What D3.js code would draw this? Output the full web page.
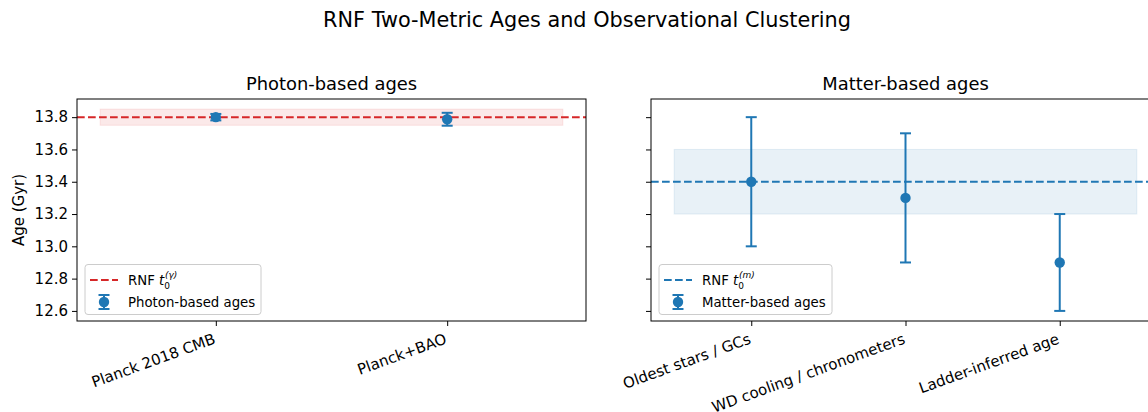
<!DOCTYPE html>
<html><head><meta charset="utf-8">
<script src="https://cdn.jsdelivr.net/npm/d3@7/dist/d3.min.js"></script>
<style>body{margin:0;background:#fff}svg{font-family:"DejaVu Sans",sans-serif}</style>
</head><body><svg id="c" width="1148" height="412"></svg>
<script>
const photonCats = ["Planck 2018 CMB", "Planck+BAO"];
const photonVals = [13.80, 13.787];
const photonErr = [0.02, 0.04];
const photonRNF = 13.80;
const photonBand = [13.75, 13.85];

const matterCats = ["Oldest stars / GCs", "WD cooling / chronometers", "Ladder-inferred age"];
const matterVals = [13.4, 13.3, 12.9];
const matterErr = [0.4, 0.4, 0.3];
const matterRNF = 13.4;
const matterBand = [13.2, 13.6];

const yTicks = [12.6, 12.8, 13.0, 13.2, 13.4, 13.6, 13.8];
const yDomain = [12.5375, 13.9125];

const svg = d3.select("#c");
const RED = "#d62728", BLUE = "#1f77b4";
const plotTop = 99, plotBottom = 321;
const y = d3.scaleLinear().domain(yDomain).range([plotBottom, plotTop]);

svg.append("text").attr("x", 587).attr("y", 27).attr("text-anchor", "middle")
  .attr("font-size", 20.8).text("RNF Two-Metric Ages and Observational Clustering");

function panel(opts) {
  const {left, right, cats, vals, errs, rnf, band, color, title, showY, legendLabel, sup} = opts;
  const n = cats.length;
  const pad = n === 3 ? 0.65 : 0.6;
  const x = d3.scaleLinear().domain([-pad, n - 1 + pad]).range([left, right]);
  const g = svg.append("g");
  g.append("rect").attr("x", x(-0.5)).attr("width", x(n - 0.5) - x(-0.5))
    .attr("y", y(band[1])).attr("height", y(band[0]) - y(band[1]))
    .attr("fill", color).attr("fill-opacity", 0.1)
    .attr("stroke", color).attr("stroke-opacity", 0.1);
  g.append("line").attr("x1", left).attr("x2", right).attr("y1", y(rnf)).attr("y2", y(rnf))
    .attr("stroke", color).attr("stroke-width", 2).attr("stroke-dasharray", "7.7,3.3");
  cats.forEach((c, i) => {
    const cx = x(i);
    const y1 = y(vals[i] + errs[i]), y0 = y(vals[i] - errs[i]);
    g.append("line").attr("x1", cx).attr("x2", cx).attr("y1", y1).attr("y2", y0).attr("stroke", BLUE).attr("stroke-width", 2);
    [y1, y0].forEach(yy => g.append("line").attr("x1", cx - 5.5).attr("x2", cx + 5.5).attr("y1", yy).attr("y2", yy).attr("stroke", BLUE).attr("stroke-width", 2));
    g.append("circle").attr("cx", cx).attr("cy", y(vals[i])).attr("r", 5.2).attr("fill", BLUE);
  });
  g.append("rect").attr("x", left).attr("y", plotTop).attr("width", right - left).attr("height", plotBottom - plotTop)
    .attr("fill", "none").attr("stroke", "#000").attr("stroke-width", 1);
  const ya = d3.axisLeft(y).tickValues(yTicks).tickSize(5).tickPadding(4)
    .tickFormat(showY ? d3.format(".1f") : () => "");
  const yg = g.append("g").attr("transform", `translate(${left},0)`).call(ya);
  yg.select(".domain").remove();
  yg.attr("font-size", 15).attr("font-family", "DejaVu Sans");
  yg.selectAll("text").attr("fill", "#000");
  const xa = d3.axisBottom(x).tickValues(d3.range(n)).tickSize(5).tickFormat(i => cats[i]);
  const xg = g.append("g").attr("transform", `translate(0,${plotBottom})`).call(xa);
  xg.select(".domain").remove();
  xg.attr("font-size", 15).attr("font-family", "DejaVu Sans");
  xg.selectAll("text").attr("fill", "#000")
    .attr("text-anchor", "end").attr("dy", null).attr("y", null)
    .attr("transform", "translate(0,22) rotate(-20)");
  g.append("text").attr("x", (left + right) / 2).attr("y", 90).attr("text-anchor", "middle")
    .attr("font-size", 17.9).text(title);
  const lx = left + 8, ly = 264;
  const lg = g.append("g");
  lg.append("rect").attr("x", lx).attr("y", ly + 0.5).attr("width", opts.legW).attr("height", 50).attr("rx", 3)
    .attr("fill", "#fff").attr("fill-opacity", 0.8).attr("stroke", "#ccc");
  lg.append("line").attr("x1", lx + 5).attr("x2", lx + 33).attr("y1", ly + 16).attr("y2", ly + 16)
    .attr("stroke", color).attr("stroke-width", 2).attr("stroke-dasharray", "7.7,3.3");
  const t1 = lg.append("text").attr("x", lx + 43).attr("y", ly + 21).attr("font-size", 13.3);
  t1.append("tspan").text("RNF ");
  t1.append("tspan").attr("font-style", "italic").text("t");
  t1.append("tspan").attr("font-size", 9).attr("dy", 4).text("0");
  t1.append("tspan").attr("font-size", 9).attr("dx", -5).attr("dy", -11).attr("font-style", "italic").text(sup);
  const ex = lx + 19, ey = ly + 38;
  lg.append("line").attr("x1", ex).attr("x2", ex).attr("y1", ey - 7).attr("y2", ey + 7).attr("stroke", BLUE).attr("stroke-width", 2);
  [ey - 7, ey + 7].forEach(yy => lg.append("line").attr("x1", ex - 5.5).attr("x2", ex + 5.5).attr("y1", yy).attr("y2", yy).attr("stroke", BLUE).attr("stroke-width", 2));
  lg.append("circle").attr("cx", ex).attr("cy", ey).attr("r", 5.2).attr("fill", BLUE);
  lg.append("text").attr("x", lx + 43).attr("y", ey + 5).attr("font-size", 13.3).text(legendLabel);
}

panel({left: 77, right: 586, cats: photonCats, vals: photonVals, errs: photonErr, rnf: photonRNF, band: photonBand,
  color: RED, title: "Photon-based ages", showY: true, legendLabel: "Photon-based ages", sup: "(γ)", legW: 176});
panel({left: 651, right: 1160, cats: matterCats, vals: matterVals, errs: matterErr, rnf: matterRNF, band: matterBand,
  color: BLUE, title: "Matter-based ages", showY: false, legendLabel: "Matter-based ages", sup: "(m)", legW: 173});

svg.append("text").attr("transform", "translate(24,210) rotate(-90)").attr("text-anchor", "middle")
  .attr("font-size", 15).text("Age (Gyr)");
</script></body></html>
